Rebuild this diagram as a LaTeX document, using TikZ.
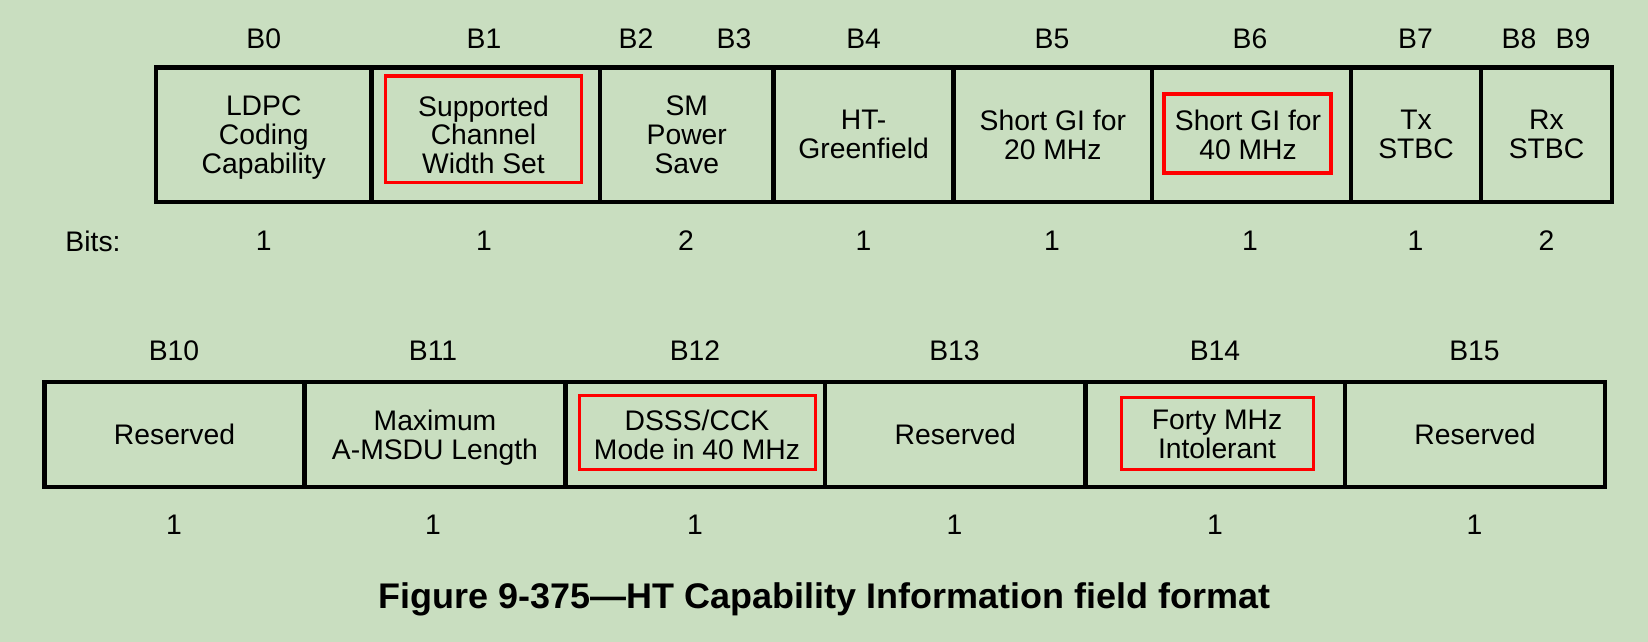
\documentclass[tikz,border=0pt]{standalone}
\usepackage{fontspec}
\setmainfont{Liberation Sans}
\usepackage{graphicx}
\definecolor{bg}{RGB}{201,222,192}
\definecolor{hl}{RGB}{255,0,0}
\begin{document}
\begin{tikzpicture}[x=1pt,y=-1pt,
  every node/.style={inner sep=0pt, font=\fontsize{28.3}{28.8}\selectfont},
  field/.style={draw=black, line width=4.5pt, rectangle},
  topfield/.style={field, minimum height=134.5pt},
  botfield/.style={field, minimum height=105pt},
  txt/.style={align=center, yshift=-4.2pt, execute at begin node=\strut, execute at end node=\strut},
  hlbox/.style={draw=hl, line width=3.3pt, rectangle},
  lbl/.style={},
  num/.style={}]
\fill[bg] (0,0) rectangle (1648,642);
\useasboundingbox (0,0) rectangle (1648,642);

% top row fields
\node[topfield, minimum width=215.5pt] (f0) at (263.75,134.75) {};
\node[topfield, minimum width=228.5pt] (f1) at (485.75,134.75) {};
\node[topfield, minimum width=173.6pt] (f2) at (686.8,134.75) {};
\node[topfield, minimum width=180pt] (f3) at (863.6,134.75) {};
\node[topfield, minimum width=198.4pt] (f4) at (1052.8,134.75) {};
\node[topfield, minimum width=199pt] (f5) at (1251.5,134.75) {};
\node[topfield, minimum width=130pt] (f6) at (1416,134.75) {};
\node[topfield, minimum width=131pt] (f7) at (1546.5,134.75) {};

% red highlight boxes (top)
\node[hlbox, minimum width=196pt, minimum height=106.5pt] (r1) at (483.5,129.25) {};
\node[hlbox, minimum width=167pt, minimum height=79pt] (r5) at (1247.5,133.5) {};

% top row texts
\node[txt] (t0) at (f0.center) {LDPC\\Coding\\Capability};
\node[txt] (t1) at (483.5,134.75) {Supported\\Channel\\Width Set};
\node[txt] (t2) at (f2.center) {SM\\Power\\Save};
\node[txt] (t3) at (f3.center) {HT-\\Greenfield};
\node[txt] (t4) at (f4.center) {Short GI for\\20 MHz};
\node[txt] (t5) at (1248,134.75) {Short GI for\\40 MHz};
\node[txt] (t6) at (f6.center) {Tx\\STBC};
\node[txt] (t7) at (f7.center) {Rx\\STBC};

% top bit labels
\node[lbl] (b0) at (263.75,39) {B0};
\node[lbl] (b1) at (484,39) {B1};
\node[lbl] (b2) at (636,39) {B2};
\node[lbl] (b3) at (734,39) {B3};
\node[lbl] (b4) at (863.6,39) {B4};
\node[lbl] (b5) at (1052,39) {B5};
\node[lbl] (b6) at (1250,39) {B6};
\node[lbl] (b7) at (1415.5,39) {B7};
\node[lbl] (b8) at (1519,39) {B8};
\node[lbl] (b9) at (1573,39) {B9};

% top sizes
\node[num] (bits) at (93,241) {Bits:};
\node[num] (n0) at (263.75,241) {1};
\node[num] (n1) at (484,241) {1};
\node[num] (n2) at (686,241) {2};
\node[num] (n3) at (863.6,241) {1};
\node[num] (n4) at (1052,241) {1};
\node[num] (n5) at (1250,241) {1};
\node[num] (n6) at (1415.5,241) {1};
\node[num] (n7) at (1546.5,241) {2};

% bottom row fields
\node[botfield, minimum width=260pt] (g0) at (174.5,434.5) {};
\node[botfield, minimum width=261pt] (g1) at (435,434.5) {};
\node[botfield, minimum width=259.5pt] (g2) at (695.25,434.5) {};
\node[botfield, minimum width=260.5pt] (g3) at (955.25,434.5) {};
\node[botfield, minimum width=259.5pt] (g4) at (1215.25,434.5) {};
\node[botfield, minimum width=260pt] (g5) at (1475,434.5) {};

% red highlight boxes (bottom)
\node[hlbox, minimum width=236pt, minimum height=74pt] (r12) at (697.5,432.5) {};
\node[hlbox, minimum width=192pt, minimum height=72pt] (r14) at (1217.5,433.5) {};

% bottom row texts
\node[txt] (u0) at (g0.center) {Reserved};
\node[txt] (u1) at (g1.center) {Maximum\\A-MSDU Length};
\node[txt] (u2) at (697,434.5) {DSSS/CCK\\Mode in 40 MHz};
\node[txt] (u3) at (g3.center) {Reserved};
\node[txt] (u4) at (1217,434.5) {Forty MHz\\Intolerant};
\node[txt] (u5) at (g5.center) {Reserved};

% bottom bit labels
\node[lbl] (c0) at (174,351) {B10};
\node[lbl] (c1) at (433,351) {B11};
\node[lbl] (c2) at (695,351) {B12};
\node[lbl] (c3) at (954.5,351) {B13};
\node[lbl] (c4) at (1215,351) {B14};
\node[lbl] (c5) at (1474.5,351) {B15};

% bottom sizes
\node[num] (m0) at (174,525) {1};
\node[num] (m1) at (433,525) {1};
\node[num] (m2) at (695,525) {1};
\node[num] (m3) at (954.5,525) {1};
\node[num] (m4) at (1215,525) {1};
\node[num] (m5) at (1474.5,525) {1};

% caption
\node[anchor=base] (cap) at (824.5,608) {\resizebox{891pt}{25.8pt}{\bfseries Figure 9-375—HT Capability Information field format}};
\end{tikzpicture}
\end{document}
